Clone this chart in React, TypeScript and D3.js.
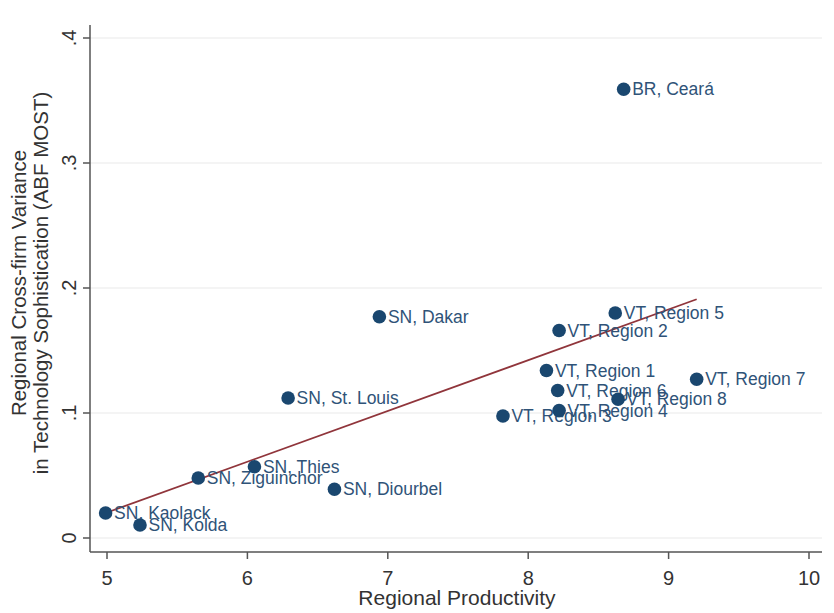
import React from "react";
import * as d3 from "d3";

const labels = [
  "SN, Kaolack", "SN, Kolda", "SN, Ziguinchor", "SN, Thies", "SN, Diourbel",
  "SN, St. Louis", "SN, Dakar", "VT, Region 3", "VT, Region 4", "VT, Region 1",
  "VT, Region 6", "VT, Region 2", "VT, Region 5", "VT, Region 8", "VT, Region 7",
  "BR, Ceará",
];
const productivity = [4.99, 5.235, 5.65, 6.05, 6.62, 6.29, 6.94, 7.82, 8.22, 8.13, 8.21, 8.22, 8.62, 8.64, 9.2, 8.68];
const variance = [0.02, 0.0104, 0.048, 0.057, 0.039, 0.112, 0.177, 0.0976, 0.102, 0.134, 0.118, 0.166, 0.18, 0.111, 0.127, 0.359];
const fitX = [4.99, 9.2];
const fitY = [0.02, 0.191];
const xTicks = [5, 6, 7, 8, 9, 10];
const yTicks = [0, 0.1, 0.2, 0.3, 0.4];
const yTickLabels = ["0", ".1", ".2", ".3", ".4"];

export default function App() {
  const W = 834, H = 613;
  const x = d3.scaleLinear().domain([5, 10]).range([107, 809]);
  const y = d3.scaleLinear().domain([0, 0.4]).range([538, 38]);
  const axisX = 90, axisY = 552;
  const right = 822, top = 25;
  const navy = "#1a476f";
  const font = "'Liberation Sans', Arial, sans-serif";
  const line = d3.line<number>().x((d) => x(d)).y((_, i) => y(fitY[i]));
  return (
    <svg width={W} height={H} style={{ position: "absolute", left: 0, top: 0, background: "#fff" }} fontFamily={font}>
      {yTicks.map((t, i) => (
        <line key={"g" + i} x1={axisX} x2={right} y1={y(t)} y2={y(t)} stroke="#eaeaea" strokeWidth={1.2} />
      ))}
      <path d={line(fitX) || ""} fill="none" stroke="#90353b" strokeWidth={1.8} />
      {productivity.map((p, i) => (
        <g key={"p" + i}>
          <circle cx={x(p)} cy={y(variance[i])} r={6.8} fill={navy} />
          <text x={x(p) + 8.5} y={y(variance[i]) + 6} fontSize={17.5} fill="#2f5378">{labels[i]}</text>
        </g>
      ))}
      <line x1={axisX} x2={axisX} y1={top} y2={axisY} stroke="#555" strokeWidth={1.5} />
      <line x1={axisX} x2={right} y1={axisY} y2={axisY} stroke="#555" strokeWidth={1.5} />
      {yTicks.map((t, i) => (
        <g key={"yt" + i}>
          <line x1={axisX - 7} x2={axisX} y1={y(t)} y2={y(t)} stroke="#555" strokeWidth={1.5} />
          <text transform={`translate(${axisX - 14},${y(t)}) rotate(-90)`} textAnchor="middle" fontSize={20} fill="#333">{yTickLabels[i]}</text>
        </g>
      ))}
      {xTicks.map((t, i) => (
        <g key={"xt" + i}>
          <line x1={x(t)} x2={x(t)} y1={axisY} y2={axisY + 7} stroke="#555" strokeWidth={1.5} />
          <text x={x(t)} y={axisY + 33} textAnchor="middle" fontSize={20} fill="#333">{t}</text>
        </g>
      ))}
      <text x={457} y={605} textAnchor="middle" fontSize={21} fill="#333">Regional Productivity</text>
      <text transform={`translate(26,${283}) rotate(-90)`} textAnchor="middle" fontSize={20.5} fill="#333">Regional Cross-firm Variance</text>
      <text transform={`translate(48,${283}) rotate(-90)`} textAnchor="middle" fontSize={20.5} fill="#333">in Technology Sophistication (ABF MOST)</text>
    </svg>
  );
}
